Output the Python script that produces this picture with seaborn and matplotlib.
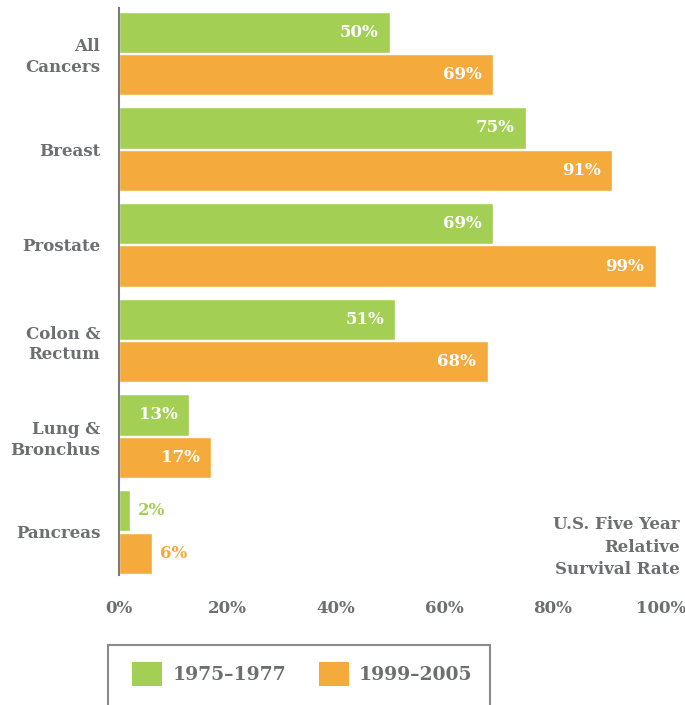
import matplotlib
matplotlib.use("Agg")
import matplotlib.pyplot as plt
from matplotlib.patches import Patch, Rectangle
import pandas as pd
import seaborn as sns

# Five-year relative survival rates (%)
sites = ["All\nCancers", "Breast", "Prostate", "Colon &\nRectum", "Lung &\nBronchus", "Pancreas"]
period_early = "1975–1977"
period_late = "1999–2005"
rate_early = [50, 75, 69, 51, 13, 2]
rate_late = [69, 91, 99, 68, 17, 6]
tick_values = [0, 20, 40, 60, 80, 100]
tick_labels = ["0%", "20%", "40%", "60%", "80%", "100%"]
note_text = "U.S. Five Year\nRelative\nSurvival Rate"

GREEN = "#a3cf55"
ORANGE = "#f4ab3b"
GRAY = "#6d6e71"

sns.set_theme(style="white")
plt.rcParams["font.family"] = ["DejaVu Serif"]
plt.rcParams["font.weight"] = "bold"

df = pd.DataFrame({
    "site": sites * 2,
    "period": [period_early] * len(sites) + [period_late] * len(sites),
    "rate": rate_early + rate_late,
})

W, H = 685, 705
fig = plt.figure(figsize=(W / 100, H / 100), dpi=100)
ax = fig.add_axes([119 / W, 130 / H, (661 - 119) / W, (575 - 8) / H])

sns.barplot(data=df, y="site", x="rate", hue="period", order=sites,
            hue_order=[period_early, period_late],
            palette=[GREEN, ORANGE], orient="h", width=0.89, gap=0.03,
            legend=False, ax=ax, errorbar=None, saturation=1)

ax.set_xlim(0, 100)
ax.set_ylim(5.45, -0.475)
ax.set_xlabel("")
ax.set_ylabel("")
ax.set_xticks(tick_values)
ax.set_xticklabels(tick_labels)
ax.tick_params(axis="x", length=0, pad=18, labelsize=12, labelcolor=GRAY)
ax.tick_params(axis="y", length=0, pad=13.5, labelsize=12, labelcolor=GRAY)
for lab in ax.get_yticklabels() + ax.get_xticklabels():
    lab.set_fontweight("bold")
    lab.set_linespacing(1.3)
for s in ["top", "right", "bottom"]:
    ax.spines[s].set_visible(False)
ax.spines["left"].set_color("#7a7b7e")
ax.spines["left"].set_linewidth(1.5)

# value labels: inside the bar end in white, or just outside in the bar colour
for container, color in zip(ax.containers, [GREEN, ORANGE]):
    for bar in container:
        val = bar.get_width()
        yc = bar.get_y() + bar.get_height() / 2
        if val >= 10:
            ax.text(val - 2.1, yc, f"{val:.0f}%", ha="right", va="center",
                    color="white", fontsize=12, fontweight="bold")
        else:
            ax.text(val + 1.5, yc, f"{val:.0f}%", ha="left", va="center",
                    color=color, fontsize=12, fontweight="bold")

fig.text(680 / W, 1 - 547 / H, note_text, ha="right", va="center",
         color=GRAY, fontsize=12, fontweight="bold", linespacing=1.4)

# legend box
fig.patches.append(Rectangle((108 / W, -0.05), (490 - 108) / W, 0.05 + (H - 645) / H,
                             transform=fig.transFigure, fill=False,
                             edgecolor="#8a8b8e", linewidth=1.5))
handles = [Patch(facecolor=GREEN, edgecolor="none"), Patch(facecolor=ORANGE, edgecolor="none")]
fig.legend(handles, [period_early, period_late], loc="center left",
           bbox_to_anchor=(132 / W, 1 - 674 / H), ncol=2, frameon=False,
           handlelength=1.6, handleheight=1.6, handletextpad=0.55,
           columnspacing=1.75, prop={"size": 13.5, "weight": "bold"},
           labelcolor=GRAY, borderaxespad=0, borderpad=0)

fig.savefig("out.png", dpi=100)
